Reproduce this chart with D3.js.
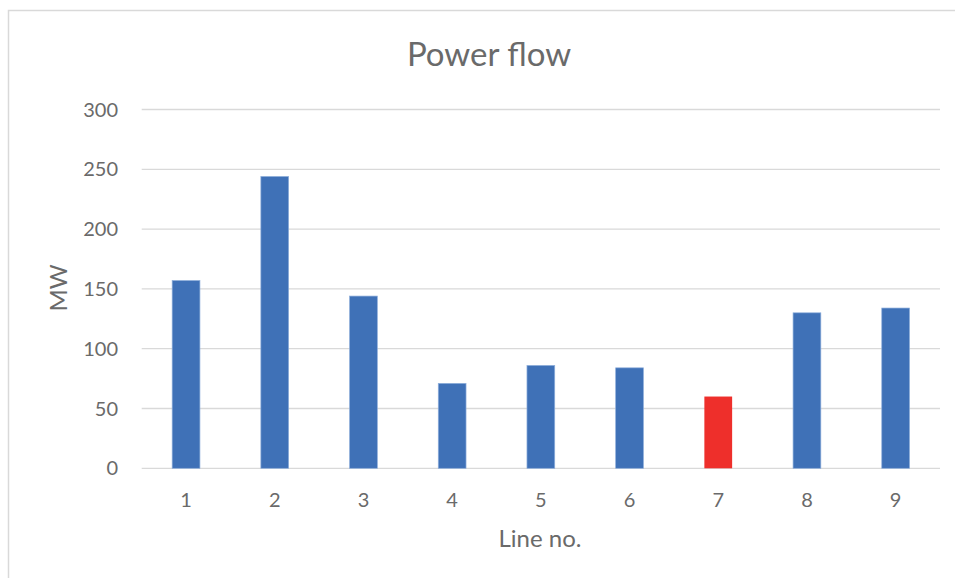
<!DOCTYPE html>
<html lang="en">
<head>
<meta charset="UTF-8">
<title>Power flow</title>
<script src="https://d3js.org/d3.v7.min.js"></script>
<style>
    body { margin: 0; background: #fff; }
    svg { display: block; font-family: Lato, "Open Sans", sans-serif; }
    .grid line { stroke: #d9d9d9; stroke-width: 1.3; }
    .tick-label { fill: #6a6a6a; font-size: 20px; }
    .axis-title { fill: #6a6a6a; font-size: 24px; }
    .title { fill: #6a6a6a; font-size: 33px; }
</style>
</head>
<body>
<svg id="chart" width="955" height="578"></svg>
<script>
// data
const lines = ["1", "2", "3", "4", "5", "6", "7", "8", "9"];
const flowMW = [157, 244, 144, 71, 86, 84, 60, 130, 134];
const highlightLine = "7";
const yTicks = [0, 50, 100, 150, 200, 250, 300];

const svg = d3.select("#chart");
const plotLeft = 141.7, plotRight = 940, plotTop = 109.5, plotBottom = 468.3;

// chart border
svg.append("rect")
    .attr("x", 8.5).attr("y", 10.5)
    .attr("width", 960).attr("height", 600)
    .attr("fill", "none")
    .attr("stroke", "#d9d9d9")
    .attr("stroke-width", 1.5);

const x = d3.scaleBand().domain(lines).range([plotLeft, plotRight]);
const y = d3.scaleLinear().domain([0, 300]).range([plotBottom, plotTop]);

// gridlines
svg.append("g").attr("class", "grid")
    .selectAll("line").data(yTicks).join("line")
    .attr("x1", plotLeft).attr("x2", plotRight)
    .attr("y1", d => y(d)).attr("y2", d => y(d));

// y tick labels
svg.append("g").selectAll("text").data(yTicks).join("text")
    .attr("class", "tick-label")
    .attr("x", 118).attr("y", d => y(d) + 7)
    .attr("text-anchor", "end")
    .text(d => d);

// bars
const barW = x.bandwidth() * 0.313;
svg.append("g").selectAll("rect").data(lines).join("rect")
    .attr("x", d => x(d) + (x.bandwidth() - barW) / 2)
    .attr("y", (d, i) => y(flowMW[i]))
    .attr("width", barW)
    .attr("height", (d, i) => y(0) - y(flowMW[i]))
    .attr("fill", d => d === highlightLine ? "#ee2f2b" : "#3f71b7")
    .attr("stroke", d => d === highlightLine ? "none" : "#8eaedb")
    .attr("stroke-width", 0.7);

// x tick labels
svg.append("g").selectAll("text").data(lines).join("text")
    .attr("class", "tick-label")
    .attr("x", d => x(d) + x.bandwidth() / 2)
    .attr("y", 507)
    .attr("text-anchor", "middle")
    .text(d => d);

// titles
svg.append("text").attr("class", "title")
    .attr("x", 489).attr("y", 66)
    .attr("text-anchor", "middle")
    .text("Power flow");

svg.append("text").attr("class", "axis-title")
    .attr("x", 540).attr("y", 547)
    .attr("text-anchor", "middle")
    .text("Line no.");

svg.append("text").attr("class", "axis-title")
    .attr("transform", "translate(67,288) rotate(-90)")
    .attr("text-anchor", "middle")
    .text("MW");
</script>
</body>
</html>
